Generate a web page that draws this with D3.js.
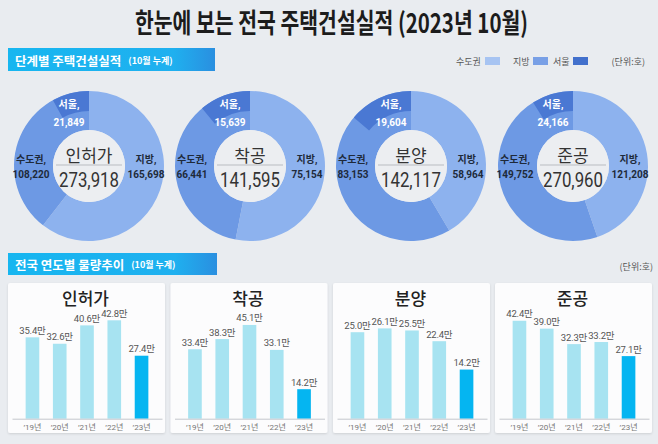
<!DOCTYPE html>
<html>
<head>
<meta charset="utf-8">
<script src="https://cdn.jsdelivr.net/npm/d3@7"></script>
<style>
  body { margin: 0; background: #e9ecf0; }
  svg { display: block; font-family: "Noto Sans CJK KR", "Noto Sans", sans-serif; }
  svg text.num { font-family: Roboto, "Noto Sans CJK KR", sans-serif; }
</style>
</head>
<body>
<svg id="chart"></svg>
<script>
const stages = ["인허가", "착공", "분양", "준공"]
const capitalArea = [108220, 66441, 83153, 149752]
const provinces = [165698, 75154, 58964, 121208]
const seoul = [21849, 15639, 19604, 24166]
const totals = [273918, 141595, 142117, 270960]

const years = ["’19년", "’20년", "’21년", "’22년", "’23년"]
const permitTrend = [35.4, 32.6, 40.6, 42.8, 27.4]
const startTrend = [33.4, 38.3, 45.1, 33.1, 14.2]
const saleTrend = [25.0, 26.1, 25.5, 22.4, 14.2]
const completeTrend = [42.4, 39.0, 32.3, 33.2, 27.1]
const trends = [permitTrend, startTrend, saleTrend, completeTrend]

const legendNames = ["수도권", "지방", "서울"]

const width = 658
const height = 444

const svg = d3.select("#chart")
  .attr("width", width)
  .attr("height", height)

svg.append("rect").attr("width", width).attr("height", height).attr("fill", "#e9ecf0")

const defs = svg.append("defs")
const grad = defs.append("linearGradient").attr("id", "hdr")
grad.append("stop").attr("offset", "0%").attr("stop-color", "#17b6f0")
grad.append("stop").attr("offset", "80%").attr("stop-color", "#1fb0ef")
grad.append("stop").attr("offset", "100%").attr("stop-color", "#2a8fe0")

const shadow = defs.append("filter").attr("id", "shadow").attr("x", "-5%").attr("y", "-5%").attr("width", "110%").attr("height", "110%")
shadow.append("feDropShadow").attr("dx", 0).attr("dy", 1).attr("stdDeviation", 1).attr("flood-color", "#000").attr("flood-opacity", 0.12)

// title
svg.append("text")
  .attr("x", 135).attr("y", 33)
  .attr("textLength", 393).attr("lengthAdjust", "spacingAndGlyphs")
  .attr("font-size", 27).attr("font-weight", 700).attr("fill", "#1c1c1c")
  .text("한눈에 보는 전국 주택건설실적 (2023년 10월)")

// section headers
function header(y, h, w, main, sub) {
  const g = svg.append("g")
  g.append("rect").attr("x", 8).attr("y", y).attr("width", w).attr("height", h).attr("fill", "url(#hdr)")
  const t = g.append("text").attr("x", 15).attr("y", y + h / 2).attr("dominant-baseline", "central").attr("fill", "#fff").attr("font-weight", 700)
  t.append("tspan").attr("font-size", 12.5).text(main)
  t.append("tspan").attr("font-size", 9).attr("dx", 7).text(sub)
}
header(48, 23, 207, "단계별 주택건설실적", "(10월 누계)")
header(253, 22, 209, "전국 연도별 물량추이", "(10월 누계)")

// legend
const legendColors = ["#a7c4f2", "#79a0e6", "#4270cc"]
const legendX = [456, 513, 553]
const lg = svg.append("g").attr("font-size", 9).attr("fill", "#555")
legendNames.forEach((n, i) => {
  lg.append("text").attr("x", legendX[i]).attr("y", 61).attr("dominant-baseline", "central").text(n)
  const tw = n.length * 9 + 2
  lg.append("rect").attr("x", legendX[i] + tw).attr("y", 57).attr("width", 15).attr("height", 8).attr("fill", legendColors[i])
})
lg.append("text").attr("x", 645).attr("y", 61).attr("text-anchor", "end").attr("dominant-baseline", "central").text("(단위:호)")

// donuts
const donutCx = [89, 250, 411, 573]
const cy = 166
const R = 75
const r0 = 36
const ringColors = { provinces: "#8db2ee", capital: "#6d99e4", seoul: "#4a78d3" }

const pie = d3.pie().sort(null)
const arc = d3.arc().innerRadius(r0).outerRadius(R)
const seoulArc = d3.arc().innerRadius(55).outerRadius(R)
const fmt = d3.format(",")

stages.forEach((s, i) => {
  const g = svg.append("g").attr("transform", `translate(${donutCx[i]},${cy})`)
  const slices = pie([provinces[i], capitalArea[i]])
  g.selectAll("path.ring")
    .data(slices)
    .join("path")
    .attr("class", "ring")
    .attr("d", arc)
    .attr("fill", (d, j) => j === 0 ? ringColors.provinces : ringColors.capital)
  const share = seoul[i] / totals[i]
  g.append("path")
    .attr("d", seoulArc({ startAngle: 2 * Math.PI * (1 - share), endAngle: 2 * Math.PI }))
    .attr("fill", ringColors.seoul)
  g.append("circle").attr("r", r0).attr("fill", "#eceef1")
  g.append("line").attr("x1", -33).attr("x2", 33).attr("y1", -1).attr("y2", -1).attr("stroke", "#b9bcc1").attr("stroke-width", 1)
  g.append("text").attr("y", -12).attr("text-anchor", "middle").attr("dominant-baseline", "central")
    .attr("font-size", 17).attr("fill", "#333").text(s)
  const total = fmt(totals[i])
  g.append("text").attr("class", "num").attr("x", -30).attr("y", 14).attr("dominant-baseline", "central")
    .attr("textLength", 60).attr("lengthAdjust", "spacingAndGlyphs")
    .attr("font-size", 20).attr("fill", "#333").text(total)

  const lab = (x, y, txt, col) => g.append("text").attr("class", "num").attr("x", x).attr("y", y)
    .attr("text-anchor", "middle").attr("dominant-baseline", "central")
    .attr("font-size", 10).attr("font-weight", 700).attr("fill", col).text(txt)
  lab(-20, -62, "서울,", "#fff")
  lab(-20, -44, fmt(seoul[i]), "#fff")
  lab(-58, -7, "수도권,", "#1e2a3a")
  lab(-58, 8, fmt(capitalArea[i]), "#1e2a3a")
  lab(57, -7, "지방,", "#1e2a3a")
  lab(57, 8, fmt(provinces[i]), "#1e2a3a")
})

svg.append("text").attr("x", 653).attr("y", 266).attr("text-anchor", "end").attr("dominant-baseline", "central")
  .attr("font-size", 9).attr("fill", "#555").text("(단위:호)")

// bar panels
const panelX = [8, 170.5, 333, 495]
const panelW = 157
const panelY = 283
const panelH = 150
const baseY = 418.7
const yMax = [43.5, 48.1, 28.9, 43.3]

stages.forEach((s, i) => {
  const px = panelX[i]
  const g = svg.append("g")
  g.append("rect").attr("x", px).attr("y", panelY).attr("width", panelW).attr("height", panelH)
    .attr("rx", 2).attr("fill", "#fcfcfd").attr("filter", "url(#shadow)")
  g.append("text").attr("x", px + panelW / 2 - 1).attr("y", 297).attr("text-anchor", "middle")
    .attr("dominant-baseline", "central").attr("font-size", 17).attr("font-weight", 500).attr("fill", "#222").text(s)

  const x = d3.scaleBand().domain(years).range([px + 4, px + 154]).padding(0.5)
  const y = d3.scaleLinear().domain([0, yMax[i]]).range([baseY, baseY - 100])
  const data = trends[i].map((v, j) => ({ year: years[j], v }))

  g.selectAll("rect.bar")
    .data(data)
    .join("rect")
    .attr("class", "bar")
    .attr("x", d => x(d.year))
    .attr("width", x.bandwidth())
    .attr("y", d => y(d.v))
    .attr("height", d => baseY - y(d.v))
    .attr("fill", (d, j) => j === data.length - 1 ? "#05b5f1" : "#a7e3f1")

  g.selectAll("text.val")
    .data(data)
    .join("text")
    .attr("class", "val num")
    .attr("x", d => x(d.year) + x.bandwidth() / 2)
    .attr("y", d => y(d.v) - 7)
    .attr("text-anchor", "middle").attr("dominant-baseline", "central")
    .attr("font-size", 9.5).attr("letter-spacing", -0.2).attr("fill", "#555")
    .text(d => d.v.toFixed(1) + "만")

  const axis = g.append("g").attr("transform", `translate(0,${baseY})`)
    .call(d3.axisBottom(x).tickSize(0).tickPadding(6))
  axis.select(".domain").attr("stroke", "#c4c7cc")
  axis.selectAll("text").attr("font-size", 8).attr("fill", "#777")
    .attr("font-family", "Roboto, \"Noto Sans CJK KR\", sans-serif")
})
</script>
</body>
</html>
